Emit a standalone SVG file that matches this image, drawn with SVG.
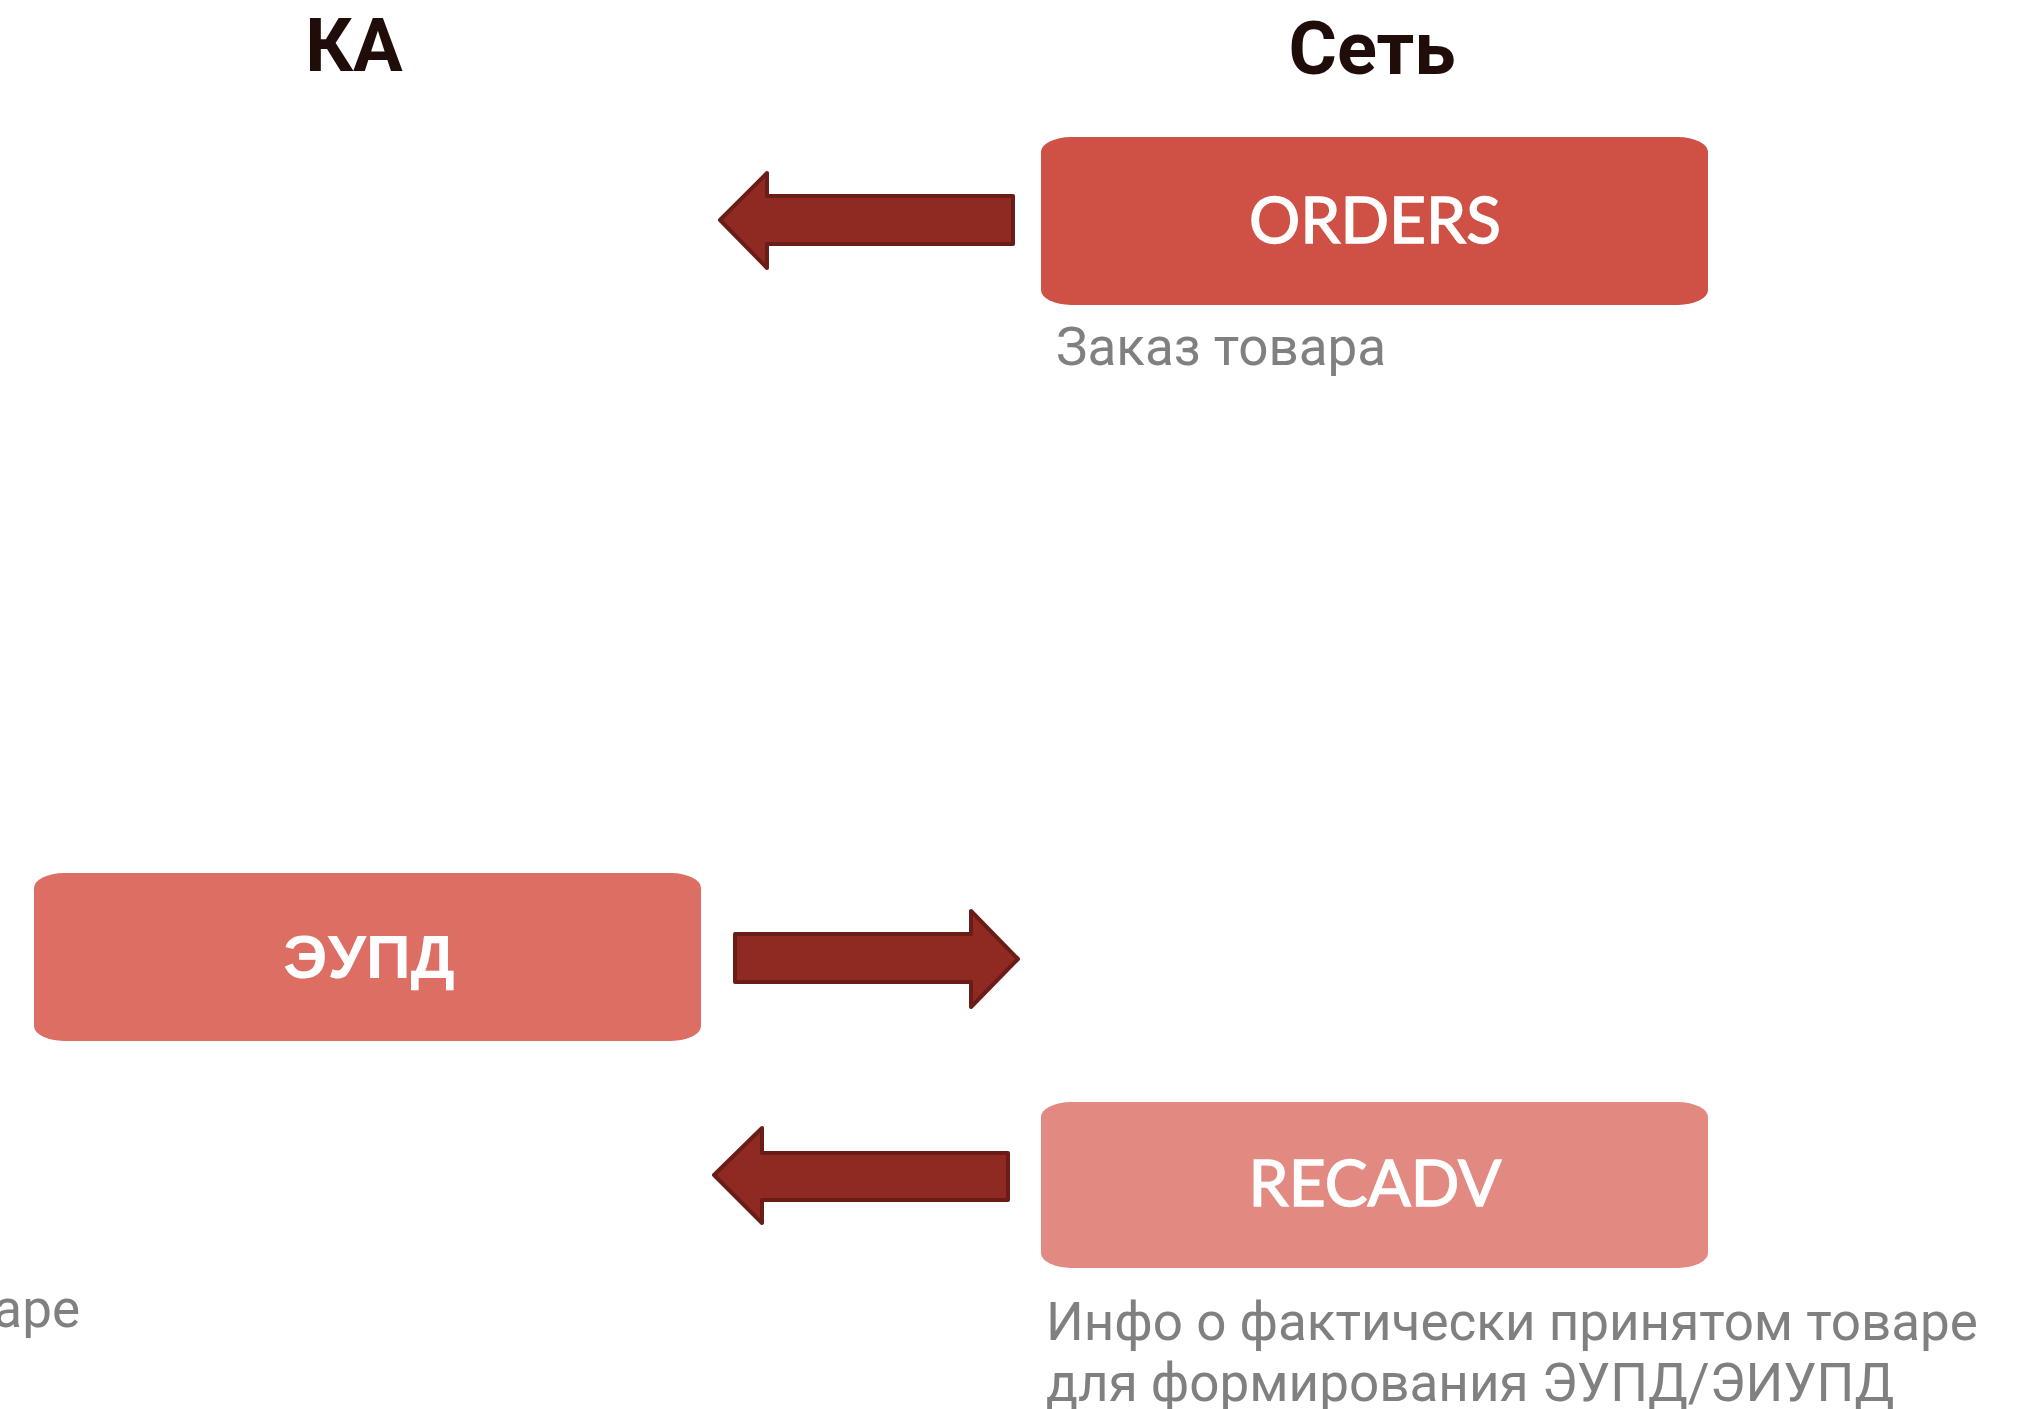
<svg xmlns="http://www.w3.org/2000/svg" width="2032" height="1409" viewBox="0 0 2032 1409">
<style>
.hdr{font-family:Roboto,"Liberation Sans",sans-serif;font-weight:bold;font-size:74px;fill:#200c08;text-anchor:middle}
.lbl{font-family:Lato,"Liberation Sans",sans-serif;font-size:64px;fill:#ffffff;stroke:#ffffff;stroke-width:1.4;text-anchor:middle}
.lblc{font-family:"Liberation Sans",Arial,sans-serif;font-weight:bold;font-size:62px;fill:#ffffff;text-anchor:middle}
.note{font-family:Roboto,"Liberation Sans",sans-serif;font-size:53px;fill:#808080}
.arrow{fill:#8e2a22;stroke:#6a1d17;stroke-width:4;stroke-linejoin:round}
</style>
<rect width="2032" height="1409" fill="#ffffff"/>
<text class="hdr" x="354" y="71">КА</text>
<text class="hdr" x="1372" y="74">Сеть</text>
<g id="orders">
<rect x="1041" y="137" width="667" height="168" rx="30" ry="15" fill="#cf5044"/>
<text class="lbl" x="1375" y="243">ORDERS</text>
<text class="note" x="1056" y="365">Заказ товара</text>
</g>
<g id="eupd">
<rect x="34" y="873" width="667" height="168" rx="30" ry="15" fill="#dd6e63"/>
<text class="lblc" x="369" y="978">ЭУПД</text>
</g>
<g id="recadv">
<rect x="1041" y="1102" width="667" height="166" rx="30" ry="15" fill="#e28a82"/>
<text class="lbl" x="1375" y="1206">RECADV</text>
<text class="note"><tspan x="1046" y="1340">Инфо о фактически принятом товаре</tspan><tspan x="1046" y="1401">для формирования ЭУПД/ЭИУПД</tspan></text>
</g>
<text class="note" x="80" y="1327" text-anchor="end">аре</text>
<g id="connectors">
<polygon class="arrow" points="720,220 767,173 767,196 1013,196 1013,244 767,244 767,268"/>
<polygon class="arrow" points="1018,959 971,911 971,934 735,934 735,982 971,982 971,1007"/>
<polygon class="arrow" points="714,1175 762,1128 762,1153 1008,1153 1008,1200 762,1200 762,1223"/>
</g>
</svg>
